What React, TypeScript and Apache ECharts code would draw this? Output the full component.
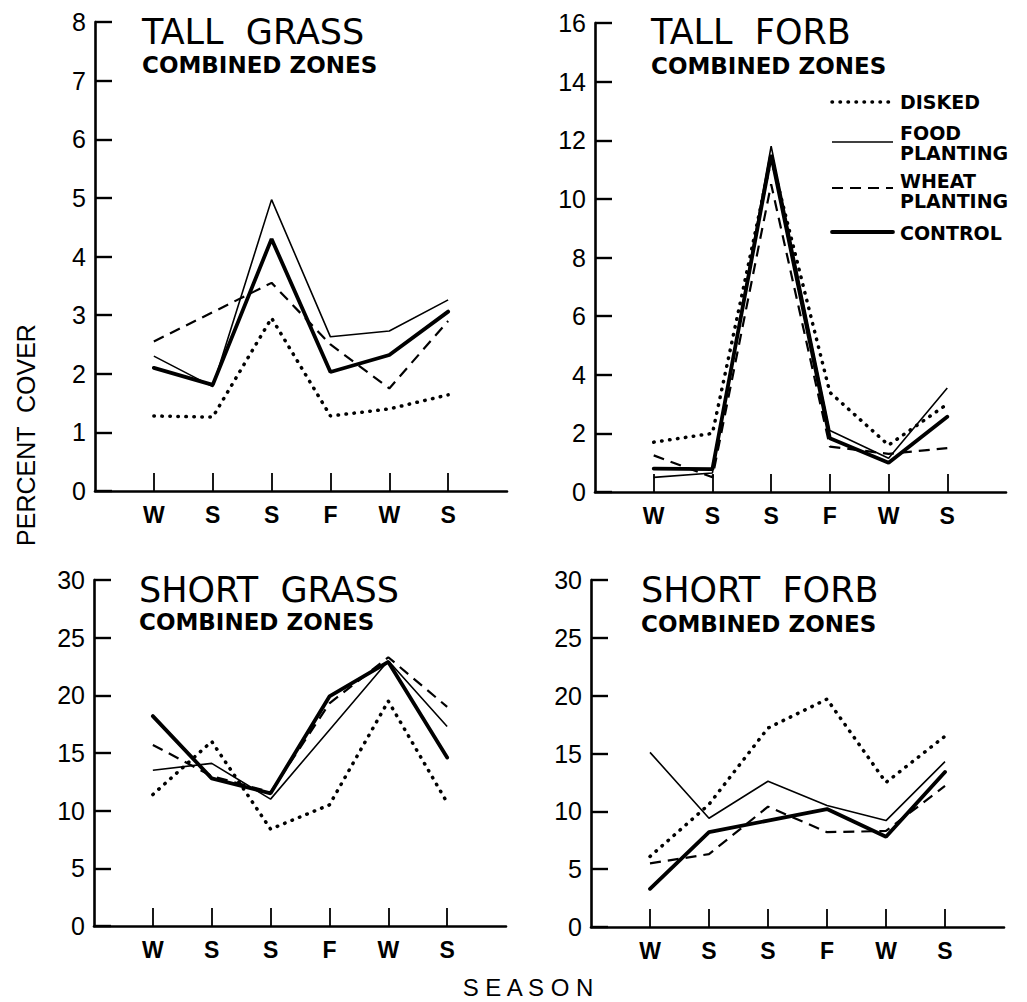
import React, { useEffect, useRef } from "react";
import * as echarts from "echarts";

const SEASONS = ["W", "S", "S", "F", "W", "S"];
const SERIES_NAMES = ["DISKED", "FOOD PLANTING", "WHEAT PLANTING", "CONTROL"];

const TALL_GRASS_DISKED = [1.28, 1.26, 2.95, 1.28, 1.4, 1.64];
const TALL_GRASS_FOOD = [2.3, 1.78, 4.97, 2.63, 2.73, 3.26];
const TALL_GRASS_WHEAT = [2.55, 3.05, 3.55, 2.5, 1.75, 2.9];
const TALL_GRASS_CONTROL = [2.1, 1.81, 4.3, 2.03, 2.32, 3.06];

const TALL_FORB_DISKED = [1.7, 2.0, 11.4, 3.4, 1.6, 3.0];
const TALL_FORB_FOOD = [0.5, 0.65, 11.8, 2.1, 1.15, 3.55];
const TALL_FORB_WHEAT = [1.25, 0.5, 10.5, 1.55, 1.3, 1.5];
const TALL_FORB_CONTROL = [0.8, 0.78, 11.5, 1.83, 1.0, 2.57];

const SHORT_GRASS_DISKED = [11.4, 16.0, 8.4, 10.5, 19.5, 10.7];
const SHORT_GRASS_FOOD = [13.5, 14.1, 11.0, 17.0, 23.0, 17.3];
const SHORT_GRASS_WHEAT = [15.7, 13.0, 11.6, 19.3, 23.3, 19.0];
const SHORT_GRASS_CONTROL = [18.2, 12.8, 11.5, 19.9, 22.9, 14.6];

const SHORT_FORB_DISKED = [6.1, 10.6, 17.2, 19.7, 12.5, 16.5];
const SHORT_FORB_FOOD = [15.1, 9.4, 12.6, 10.5, 9.2, 14.3];
const SHORT_FORB_WHEAT = [5.5, 6.3, 10.4, 8.2, 8.3, 12.2];
const SHORT_FORB_CONTROL = [3.3, 8.2, 9.2, 10.2, 7.8, 13.4];

const PANEL_TITLES = ["TALL  GRASS", "TALL  FORB", "SHORT  GRASS", "SHORT  FORB"];
const PANEL_SUBTITLE = "COMBINED ZONES";
const Y_MAX = [8, 16, 30, 30];
const Y_INTERVAL = [1, 2, 5, 5];

const PANEL_DATA = [
  [TALL_GRASS_DISKED, TALL_GRASS_FOOD, TALL_GRASS_WHEAT, TALL_GRASS_CONTROL],
  [TALL_FORB_DISKED, TALL_FORB_FOOD, TALL_FORB_WHEAT, TALL_FORB_CONTROL],
  [SHORT_GRASS_DISKED, SHORT_GRASS_FOOD, SHORT_GRASS_WHEAT, SHORT_GRASS_CONTROL],
  [SHORT_FORB_DISKED, SHORT_FORB_FOOD, SHORT_FORB_WHEAT, SHORT_FORB_CONTROL],
];

const FONT = "'Liberation Sans', 'DejaVu Sans', sans-serif";
const TFONT = "'DejaVu Sans', 'Liberation Sans', sans-serif";

const LINE_STYLES: any[] = [
  { color: "#000", width: 3.5, type: [0.5, 7.5], cap: "round" },
  { color: "#000", width: 1.6, type: "solid" },
  { color: "#000", width: 2.2, type: [11, 7] },
  { color: "#000", width: 3.8, type: "solid", cap: "round" },
];

const GRIDS = [
  { left: 95, top: 22, width: 412, height: 469 },
  { left: 595, top: 23, width: 411, height: 469 },
  { left: 94, top: 580, width: 412, height: 346 },
  { left: 591, top: 580, width: 413, height: 347 },
];

const TITLE_POS = [
  { left: 142, top: 18, sub: 47 },
  { left: 651, top: 18, sub: 48 },
  { left: 139, top: 576, sub: 604 },
  { left: 641, top: 576, sub: 606 },
];

export default function App() {
  const ref = useRef<HTMLDivElement>(null);

  useEffect(() => {
    if (!ref.current) return;
    const chart = echarts.init(ref.current, undefined, { renderer: "svg" });
    const cats = [1, 2, 3, 4, 5, 6];

    const xAxis = GRIDS.map((_, i) => ({
      type: "value",
      gridIndex: i,
      min: 0,
      max: 7,
      interval: 1,
      axisLine: { show: true, lineStyle: { color: "#000", width: 2.6 } },
      axisTick: {
        show: true,
        inside: true,
        length: 18,
        customValues: cats,
        lineStyle: { color: "#000", width: 1.8 },
      },
      axisLabel: {
        show: true,
        customValues: cats,
        formatter: (v: number) => SEASONS[Math.round(v) - 1] ?? "",
        color: "#000",
        fontFamily: FONT,
        fontWeight: "bold",
        fontSize: 23,
        margin: 12,
      },
      splitLine: { show: false },
    }));

    const yAxis = GRIDS.map((_, i) => ({
      type: "value",
      gridIndex: i,
      min: 0,
      max: Y_MAX[i],
      interval: Y_INTERVAL[i],
      axisLine: { show: true, lineStyle: { color: "#000", width: 2.6 } },
      axisTick: { show: true, inside: true, length: 17, lineStyle: { color: "#000", width: 2.4 } },
      axisLabel: {
        color: "#000",
        fontFamily: FONT,
        fontSize: 25,
        margin: 9,
      },
      splitLine: { show: false },
    }));

    const series: any[] = [];
    PANEL_DATA.forEach((panel, p) => {
      panel.forEach((vals, s) => {
        series.push({
          type: "line",
          name: SERIES_NAMES[s],
          xAxisIndex: p,
          yAxisIndex: p,
          data: vals.map((v, k) => [cats[k], v]),
          showSymbol: false,
          symbol: "none",
          lineStyle: LINE_STYLES[s],
          z: 10 - s,
        });
      });
    });

    const title = PANEL_TITLES.map((t, i) => ({
      text: t,
      subtext: PANEL_SUBTITLE,
      left: TITLE_POS[i].left,
      top: TITLE_POS[i].top,
      padding: 0,
      itemGap: TITLE_POS[i].sub - TITLE_POS[i].top - 28,
      textStyle: {
        color: "#000",
        fontFamily: TFONT,
        fontWeight: "normal",
        fontSize: 35,
        lineHeight: 28,
      },
      subtextStyle: {
        color: "#000",
        fontFamily: TFONT,
        fontWeight: "bold",
        fontSize: 23,
        lineHeight: 22,
      },
    }));

    const legendX0 = 832;
    const legendX1 = 893;
    const legendRows = [
      { y: 102, text: "DISKED", ty: 102 },
      { y: 142, text: "FOOD\nPLANTING", ty: 143 },
      { y: 188, text: "WHEAT\nPLANTING", ty: 191 },
      { y: 232, text: "CONTROL", ty: 233 },
    ];
    const graphic: any[] = [];
    legendRows.forEach((r, i) => {
      graphic.push({
        type: "line",
        shape: { x1: legendX0, y1: r.y, x2: legendX1, y2: r.y },
        style: {
          stroke: "#000",
          lineWidth: LINE_STYLES[i].width,
          lineDash: Array.isArray(LINE_STYLES[i].type) ? LINE_STYLES[i].type : null,
          lineCap: LINE_STYLES[i].cap || "butt",
        },
      });
      graphic.push({
        type: "text",
        x: 900,
        y: r.ty,
        style: {
          text: r.text,
          fill: "#000",
          font: `bold 19px ${TFONT}`,
          lineHeight: 20,
          verticalAlign: "middle",
        },
      });
    });
    graphic.push({
      type: "text",
      x: 26,
      y: 435,
      rotation: Math.PI / 2,
      style: {
        text: "PERCENT  COVER",
        fill: "#000",
        font: `25px ${FONT}`,
        align: "center",
        verticalAlign: "middle",
      },
    });
    graphic.push({
      type: "text",
      x: 528,
      y: 987,
      style: {
        text: "S E A S O N",
        fill: "#000",
        font: `24px ${FONT}`,
        align: "center",
        verticalAlign: "middle",
      },
    });

    chart.setOption({
      animation: false,
      backgroundColor: "#fff",
      title,
      grid: GRIDS.map((g) => ({ ...g, containLabel: false })),
      xAxis,
      yAxis,
      series,
      graphic,
    });

    return () => chart.dispose();
  }, []);

  return (
    <div
      ref={ref}
      style={{ position: "absolute", left: 0, top: 0, width: 1027, height: 1002 }}
    />
  );
}
